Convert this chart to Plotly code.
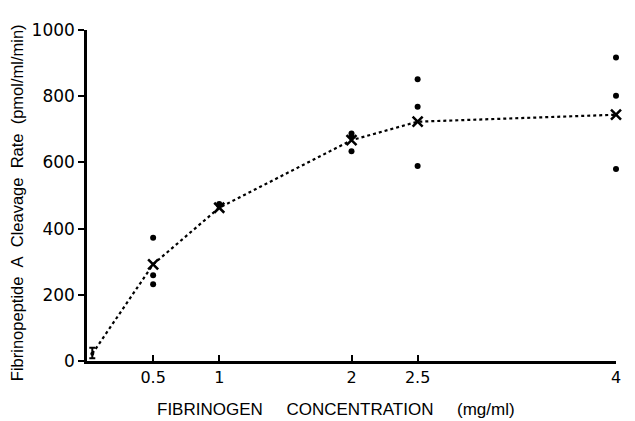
import plotly.graph_objects as go

# Individual measurements (dots)
dot_x = [0.5, 0.5, 0.5, 1, 1, 2, 2, 2, 2.5, 2.5, 2.5, 4, 4, 4]
dot_y = [372, 259, 232, 474, 470, 687, 679, 634, 851, 768, 589, 917, 801, 580]

# Means (X marks) joined by dotted line
mean_x = [0.04, 0.5, 1, 2, 2.5, 4]
mean_y = [22, 292, 463, 667, 723, 744]

# Error bar at zero concentration
err_x = [0.04]
err_y = [22]
err_hi = [18]
err_lo = [14]

x_ticks = [0.5, 1, 2, 2.5, 4]
x_tick_labels = ["0.5", "1", "2", "2.5", "4"]
y_ticks = [0, 200, 400, 600, 800, 1000]
y_tick_labels = ["0", "200", "400", "600", "800", "1000"]

FONT = "Liberation Sans, Arial, sans-serif"
TICKFONT = "DejaVu Sans, sans-serif"

fig = go.Figure()

fig.add_trace(go.Scatter(
    x=mean_x, y=mean_y, mode="lines",
    line=dict(color="black", width=2.2, dash="dot"),
    hoverinfo="skip", showlegend=False, cliponaxis=False))

fig.add_trace(go.Scatter(
    x=mean_x[1:], y=mean_y[1:], mode="markers",
    marker=dict(symbol="x-thin-open", size=10, color="black",
                line=dict(color="black", width=2.5)),
    showlegend=False, cliponaxis=False))

fig.add_trace(go.Scatter(
    x=dot_x, y=dot_y, mode="markers",
    marker=dict(symbol="circle", size=6, color="black"),
    showlegend=False, cliponaxis=False))

fig.add_trace(go.Scatter(
    x=err_x, y=err_y, mode="markers",
    marker=dict(symbol="circle", size=4, color="black"),
    error_y=dict(type="data", symmetric=False, array=err_hi, arrayminus=err_lo,
                 color="black", thickness=2, width=3),
    showlegend=False, cliponaxis=False))

fig.update_xaxes(
    range=[0, 4], tickmode="array", tickvals=x_ticks, ticktext=x_tick_labels,
    ticks="inside", ticklen=6, tickwidth=2, tickcolor="black",
    showline=True, linecolor="black", linewidth=2.5,
    showgrid=False, zeroline=False,
    tickfont=dict(family=TICKFONT, size=16, color="black"))

fig.update_yaxes(
    range=[0, 1000], tickmode="array", tickvals=y_ticks, ticktext=y_tick_labels,
    ticks="outside", ticklen=6, tickwidth=2, tickcolor="black",
    showline=True, linecolor="black", linewidth=2.5,
    showgrid=False, zeroline=False,
    tickfont=dict(family=TICKFONT, size=17, color="black"))

sp = "\u00a0\u00a0\u00a0\u00a0\u00a0"
fig.add_annotation(
    text="FIBRINOGEN" + sp + "CONCENTRATION" + sp + "(mg/ml)",
    xref="paper", yref="paper", x=0.471, y=-0.146, xanchor="center", yanchor="middle",
    showarrow=False, font=dict(family=FONT, size=17, color="black"))

sp2 = "\u00a0\u00a0"
fig.add_annotation(
    text="Fibrinopeptide" + sp2 + "A" + sp2 + "Cleavage" + sp2 + "Rate" + sp2 + "(pmol/ml/min)",
    xref="paper", yref="paper", x=-0.131, y=0.479, xanchor="center", yanchor="middle",
    textangle=-90, showarrow=False, borderpad=0,
    font=dict(family=FONT, size=16.5, color="black"))

fig.update_layout(
    width=627, height=413,
    margin=dict(l=79, r=19, t=17, b=60),
    plot_bgcolor="white", paper_bgcolor="white")

fig.write_html("out.html")
